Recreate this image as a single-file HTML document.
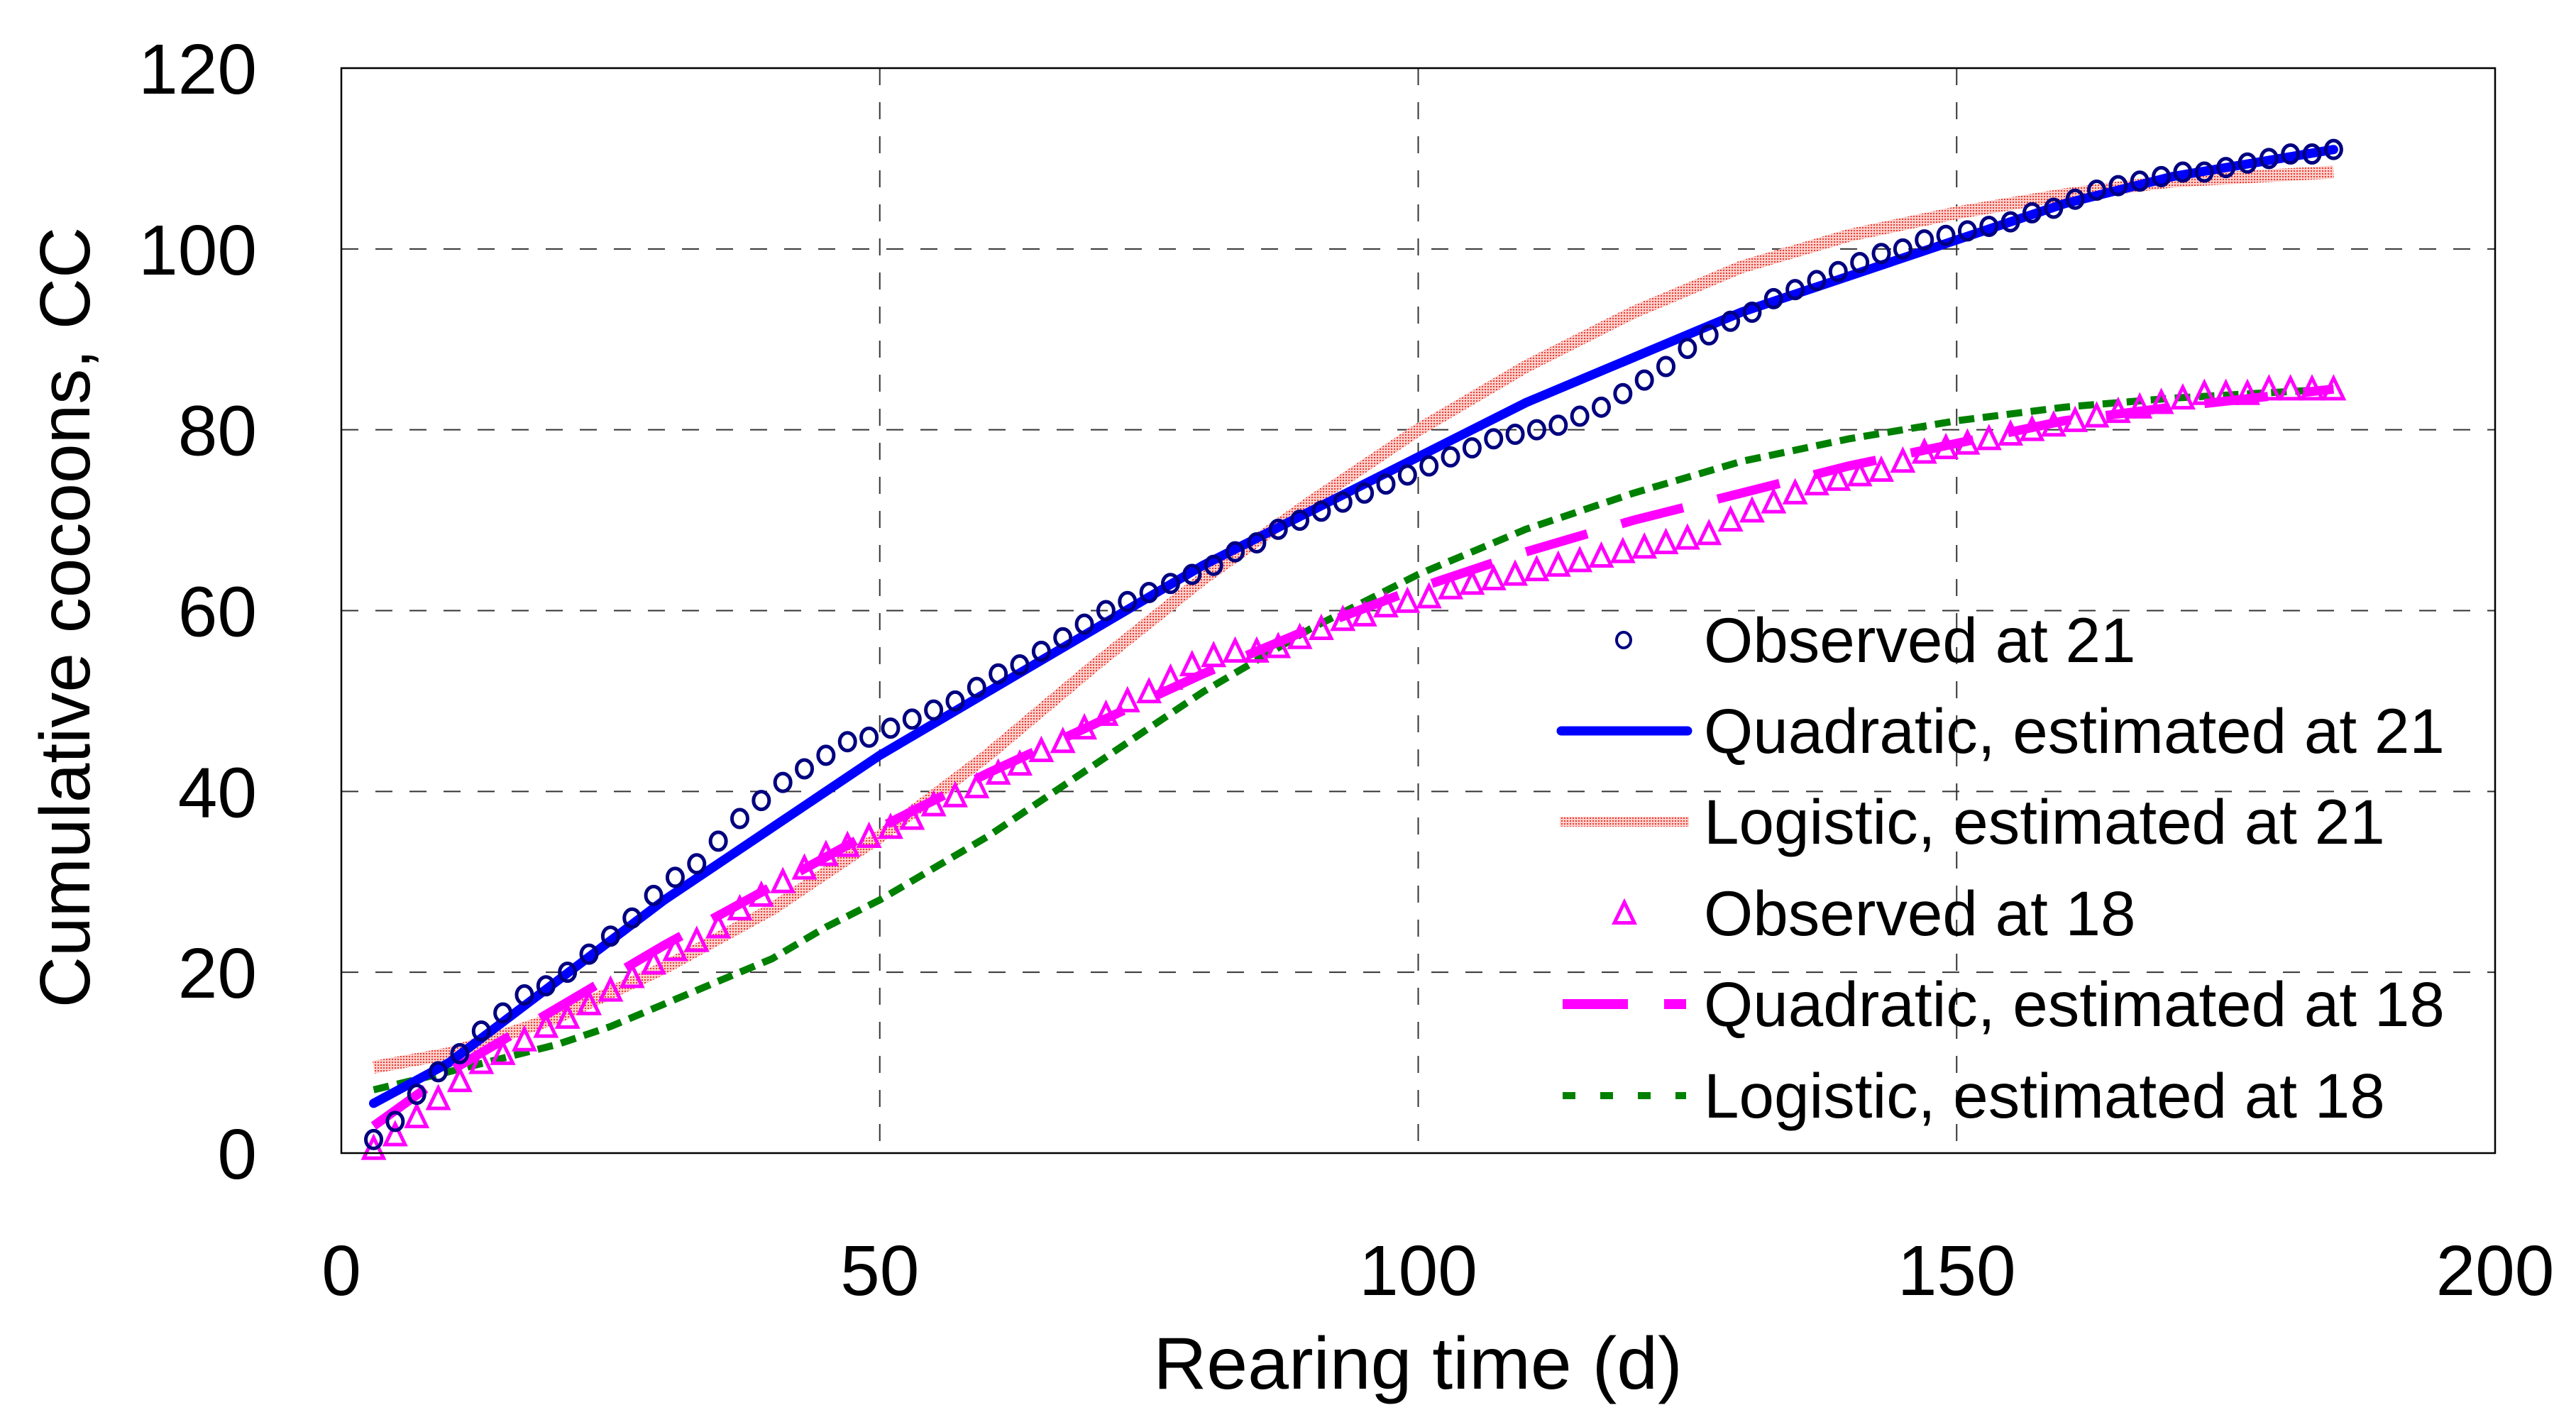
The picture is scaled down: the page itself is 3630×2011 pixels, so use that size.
<!DOCTYPE html>
<html><head><meta charset="utf-8"><style>
html,body{margin:0;padding:0;background:#fff;}
svg{display:block;}
text{font-family:"Liberation Sans",Arial,sans-serif;fill:#000;}
</style></head><body>
<svg id="chart" width="3630" height="2011" viewBox="0 0 3630 2011" xmlns="http://www.w3.org/2000/svg">
<defs>
<pattern id="dotpat" width="4" height="4" patternUnits="userSpaceOnUse">
<rect width="4" height="4" fill="#fbd0cc"/><rect width="2" height="2" fill="#f03a30"/>
</pattern>
</defs>
<g id="grid"></g>
<g id="series"></g>
<rect x="481" y="96" width="3035" height="1529" fill="none" stroke="#000" stroke-width="2.5"/>
<g id="ticks"></g>
<text x="1998" y="1957" font-size="104" text-anchor="middle">Rearing time (d)</text>
<text transform="translate(126,870) rotate(-90)" font-size="100" text-anchor="middle">Cumulative cocoons, CC</text>
<g id="legend"></g>
</svg>
<script>
const xTicks = [0, 50, 100, 150, 200];
const yTicks = [0, 20, 40, 60, 80, 100, 120];
const obsDays = [3,5,7,9,11,13,15,17,19,21,23,25,27,29,31,33,35,37,39,41,43,45,47,49,51,53,55,57,59,61,63,65,67,69,71,73,75,77,79,81,83,85,87,89,91,93,95,97,99,101,103,105,107,109,111,113,115,117,119,121,123,125,127,129,131,133,135,137,139,141,143,145,147,149,151,153,155,157,159,161,163,165,167,169,171,173,175,177,179,181,183,185];
const obs21 = [1.5,3.5,6.5,9,11,13.5,15.5,17.5,18.5,20,22,24,26,28.5,30.5,32,34.5,37,39,41,42.5,44,45.5,46,47,48,49,50,51.5,53,54,55.5,57,58.5,60,61,62,63,64,65,66.5,67.5,69,70,71,72,73,74,75,76,77,78,79,79.5,80,80.5,81.5,82.5,84,85.5,87,89,90.5,92,93,94.5,95.5,96.5,97.5,98.5,99.5,100,101,101.5,102,102.5,103,104,104.5,105.5,106.5,107,107.5,108,108.5,108.5,109,109.5,110,110.5,110.5,111];
const obs18 = [0.5,2,4,6,8,10,11,12.5,14,15,16.5,18,19.5,21,22.5,23.5,25,27,28.5,30,31.5,33,34,35,36,37,38.5,39.5,40.5,42,43,44.5,45.5,47,48.5,50,51,52.5,54,55,55.5,55.5,56,57,58,59,59.5,60.5,61,61.5,62.5,63,63.5,64,64.5,65,65.5,66,66.5,67,67.5,68,68.5,70,71,72,73,74,74.5,75,75.5,76.5,77.5,78,78.5,79,79.5,80,80.5,81,81.5,82,82.5,83,83.5,84,84,84,84.5,84.5,84.5,84.5];
const fitDays = [3,10,20,30,40,50,60,70,80,90,100,110,120,130,140,150,160,170,185];
const quad21 = [5.5,10,19,28,36,44,51,58,65,71,77,83,88,93,97,101,105,108,111];
const logi21 = [9.5,11,15,20.5,27,35,44,54,63.5,72,80,87,93,98,101.5,104,106,107.5,108.5];
const quad18 = [3,9,16,23,29.5,36,42,47.5,53,58,62.5,66.5,70,73,76,78.5,81,82.5,84.5];
const logi18Days = [3,10,15,20,25,30,35,40,45,50,55,60,65,70,75,80,85,90,95,100,110,120,130,140,150,160,170,185];
const logi18 = [7,9,10.5,12,14,16.5,19,21.5,25,28,31.5,35,39,43,47,51,54.5,58,61,64,69,73,76.5,79,81,82.5,83.5,84.5];
const legendLabels = ["Observed at 21","Quadratic, estimated at 21","Logistic, estimated at 21","Observed at 18","Quadratic, estimated at 18","Logistic, estimated at 18"];

const NS = "http://www.w3.org/2000/svg";
const X0 = 481, X1 = 3516, Y0 = 1625, Y1 = 96;
function sx(v){ return X0 + (v - 0) / 200 * (X1 - X0); }
function sy(v){ return Y0 - (v - 0) / 120 * (Y0 - Y1); }
function mk(tag, attrs, parent){ const e = document.createElementNS(NS, tag); for (const k in attrs) e.setAttribute(k, attrs[k]); parent.appendChild(e); return e; }

const grid = document.getElementById('grid');
const ticks = document.getElementById('ticks');
xTicks.forEach(t => {
  if (t > 0 && t < 200) {
    const l = mk('line', {x1: sx(t), x2: sx(t), y1: Y1, y2: Y0, stroke: '#333', 'stroke-width': 2, 'stroke-dasharray': '24 24'}, grid);
    
    
  }
  const tx = mk('text', {x: sx(t), y: 1825, 'font-size': 100, 'text-anchor': 'middle'}, ticks);
  
  
  tx.textContent = t;
});
yTicks.forEach(t => {
  if (t > 0 && t < 120) {
    const l = mk('line', {x1: X0, x2: X1, y1: sy(t), y2: sy(t), stroke: '#333', 'stroke-width': 2, 'stroke-dasharray': '24 24'}, grid);
    
    
  }
  const tx = mk('text', {x: 362, y: sy(t) + 36, 'font-size': 100, 'text-anchor': 'end'}, ticks);
  
  
  tx.textContent = t;
});

const series = document.getElementById('series');
function pathOf(xs, ys){ return xs.map((x,i) => (i ? 'L' : 'M') + sx(x).toFixed(1) + ' ' + sy(ys[i]).toFixed(1)).join(' '); }
const pLogi21 = mk('path', {d: pathOf(fitDays, logi21), fill: 'none', stroke: 'url(#dotpat)', 'stroke-width': 18}, series);


const pLogi18 = mk('path', {d: pathOf(logi18Days, logi18), fill: 'none', stroke: '#008000', 'stroke-width': 10, 'stroke-dasharray': '22 12'}, series);


const pQuad21 = mk('path', {d: pathOf(fitDays, quad21), fill: 'none', stroke: '#0000ff', 'stroke-width': 13, 'stroke-linecap': 'round'}, series);


const pQuad18 = mk('path', {d: pathOf(fitDays, quad18), fill: 'none', stroke: '#ff00ff', 'stroke-width': 13, 'stroke-dasharray': '90 50'}, series);



function tri(cx, cy, parent){
  const h = 27, w = 14;
  return mk('polygon', {points: `${cx},${cy-h/2-2} ${cx-w},${cy+h/2} ${cx+w},${cy+h/2}`, fill: 'none', stroke: '#ff00ff', 'stroke-width': 5}, parent);
}
obsDays.forEach((d, i) => {
  const t = tri(sx(d), sy(obs18[i]), series);
  
  
});
obsDays.forEach((d, i) => {
  const c = mk('ellipse', {cx: sx(d), cy: sy(obs21[i]), rx: 11, ry: 12.5, fill: 'none', stroke: '#000080', 'stroke-width': 5}, series);
  
  
});

const legend = document.getElementById('legend');
const rowY = [902, 1030, 1158, 1287, 1415, 1544];
legendLabels.forEach((lab, i) => {
  const y = rowY[i];
  const g = mk('g', {}, legend);
  
  
  if (i === 0) mk('ellipse', {cx: 2288, cy: y, rx: 10, ry: 11, fill: 'none', stroke: '#000080', 'stroke-width': 4}, g);
  if (i === 1) mk('line', {x1: 2200, x2: 2378, y1: y, y2: y, stroke: '#0000ff', 'stroke-width': 13, 'stroke-linecap': 'round'}, g);
  if (i === 2) mk('line', {x1: 2198, x2: 2380, y1: y, y2: y, stroke: 'url(#dotpat)', 'stroke-width': 14}, g);
  if (i === 3) tri(2289, y, g);
  if (i === 4) mk('line', {x1: 2202, x2: 2376, y1: y, y2: y, stroke: '#ff00ff', 'stroke-width': 14, 'stroke-dasharray': '92 51'}, g);
  if (i === 5) mk('line', {x1: 2202, x2: 2376, y1: y, y2: y, stroke: '#008000', 'stroke-width': 10, 'stroke-dasharray': '18 35'}, g);
  const tx = mk('text', {x: 2401, y: y + 31, 'font-size': 89}, g);
  
  
  tx.textContent = lab;
});
</script>
</body></html>
